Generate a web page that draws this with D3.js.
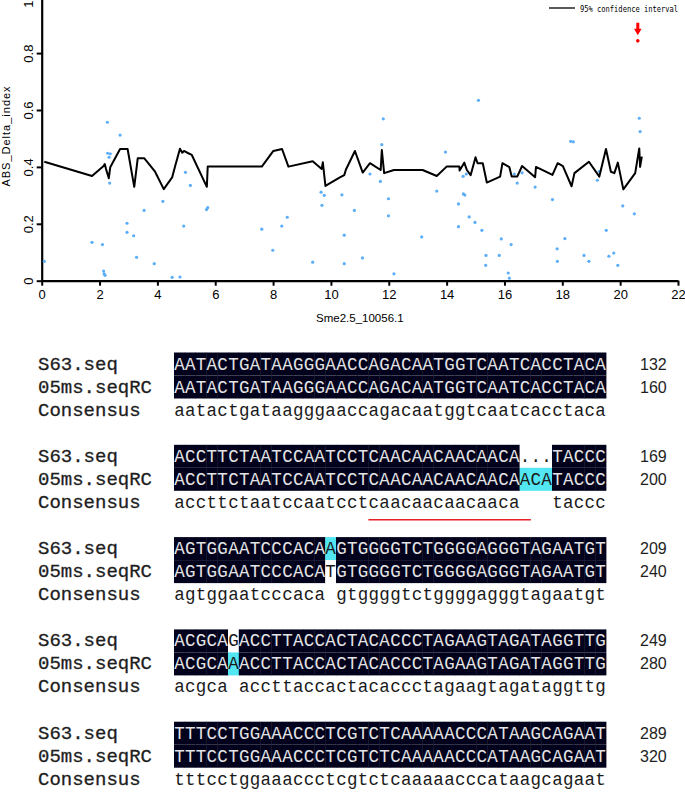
<!DOCTYPE html>
<html><head><meta charset="utf-8">
<script src="https://cdn.jsdelivr.net/npm/d3@7"></script>
<style>html,body{margin:0;padding:0;background:#fff;}svg{display:block;}</style>
</head><body>
<svg id="fig" width="685" height="811"></svg>
<script>
// ---------- Top chart data ----------
const pointX = [0.09,1.74,2.10,2.14,2.16,2.19,2.27,2.28,2.37,2.33,2.35,2.71,2.95,2.95,3.18,3.28,3.54,3.89,4.19,4.51,4.78,4.91,4.97,5.14,5.70,5.74,7.61,7.99,8.30,8.49,9.37,9.66,9.77,9.69,10.38,10.46,10.46,10.81,11.09,11.35,11.71,11.76,11.81,11.99,11.99,12.18,13.14,13.66,13.96,14.41,14.41,14.57,14.58,14.63,14.68,14.78,14.98,15.10,15.22,15.36,15.35,15.82,15.89,16.13,16.17,16.23,16.34,16.44,16.61,17.06,17.66,17.82,17.83,18.09,18.29,18.38,18.75,18.92,19.21,19.28,19.52,19.61,19.78,19.92,20.09,20.49,20.66,20.69];
const pointY = [0.068,0.135,0.127,0.034,0.024,0.019,0.557,0.448,0.446,0.434,0.343,0.512,0.202,0.170,0.158,0.082,0.247,0.060,0.279,0.012,0.013,0.192,0.381,0.335,0.250,0.257,0.181,0.107,0.192,0.223,0.065,0.311,0.300,0.265,0.302,0.160,0.060,0.247,0.080,0.375,0.349,0.478,0.569,0.288,0.228,0.024,0.154,0.315,0.452,0.270,0.190,0.367,0.305,0.301,0.375,0.224,0.205,0.634,0.177,0.089,0.054,0.089,0.147,0.027,0.009,0.127,0.375,0.343,0.379,0.329,0.285,0.112,0.068,0.148,0.490,0.488,0.089,0.068,0.353,0.384,0.177,0.086,0.097,0.054,0.263,0.235,0.571,0.524];
const ciX = [0.09,1.74,2.14,2.18,2.22,2.32,2.37,2.71,2.97,3.20,3.32,3.55,3.92,4.22,4.51,4.61,4.78,4.86,4.92,5.07,5.19,5.71,5.74,7.61,8.01,8.31,8.53,9.37,9.68,9.72,9.81,10.31,10.46,10.52,10.83,11.10,11.35,11.72,11.76,11.84,12.18,13.17,13.66,14.00,14.44,14.45,14.61,14.70,14.83,15.00,15.07,15.25,15.39,15.85,15.93,16.17,16.25,16.44,16.61,17.06,17.09,17.66,17.84,18.02,18.32,18.42,18.92,19.28,19.51,19.68,19.80,19.92,20.11,20.52,20.66,20.69,20.75];
const ciY = [0.418,0.368,0.403,0.410,0.394,0.360,0.399,0.463,0.463,0.330,0.430,0.430,0.383,0.322,0.363,0.401,0.464,0.450,0.456,0.448,0.442,0.330,0.401,0.401,0.456,0.463,0.401,0.420,0.393,0.416,0.333,0.363,0.371,0.391,0.456,0.380,0.413,0.389,0.459,0.378,0.389,0.389,0.368,0.401,0.401,0.387,0.415,0.389,0.371,0.434,0.413,0.413,0.345,0.366,0.413,0.399,0.366,0.366,0.403,0.364,0.400,0.372,0.413,0.403,0.332,0.378,0.418,0.366,0.463,0.383,0.378,0.415,0.321,0.378,0.465,0.400,0.436];
const outlierX = [20.61];
const outlierY = [0.843];
const xTicks = [0,2,4,6,8,10,12,14,16,18,20,22];
const yTicks = [0,0.2,0.4,0.6,0.8,1];
const yTickLabels = ["0","0.2","0.4","0.6","0.8","1"];
const legendLabel = "95% confidence interval";
const xTitle = "Sme2.5_10056.1";
const yTitle = "ABS_Delta_index";

// ---------- Alignment data ----------
const rowNames = ["S63.seq","05ms.seqRC","Consensus"];
const seqS63 = [
  "AATACTGATAAGGGAACCAGACAATGGTCAATCACCTACA",
  "ACCTTCTAATCCAATCCTCAACAACAACAACA...TACCC",
  "AGTGGAATCCCACAAGTGGGGTCTGGGGAGGGTAGAATGT",
  "ACGCAGACCTTACCACTACACCCTAGAAGTAGATAGGTTG",
  "TTTCCTGGAAACCCTCGTCTCAAAAACCCATAAGCAGAAT"];
const seq05ms = [
  "AATACTGATAAGGGAACCAGACAATGGTCAATCACCTACA",
  "ACCTTCTAATCCAATCCTCAACAACAACAACAACATACCC",
  "AGTGGAATCCCACATGTGGGGTCTGGGGAGGGTAGAATGT",
  "ACGCAAACCTTACCACTACACCCTAGAAGTAGATAGGTTG",
  "TTTCCTGGAAACCCTCGTCTCAAAAACCCATAAGCAGAAT"];
const seqConsensus = [
  "aatactgataagggaaccagacaatggtcaatcacctaca",
  "accttctaatccaatcctcaacaacaacaaca   taccc",
  "agtggaatcccaca gtggggtctggggagggtagaatgt",
  "acgca accttaccactacaccctagaagtagataggttg",
  "tttcctggaaaccctcgtctcaaaaacccataagcagaat"];
// shading: B = identical (dark), C = mismatch highlight (cyan), W = none
const shadeS63 = [
  "BBBBBBBBBBBBBBBBBBBBBBBBBBBBBBBBBBBBBBBB",
  "BBBBBBBBBBBBBBBBBBBBBBBBBBBBBBBBWWWBBBBB",
  "BBBBBBBBBBBBBBCBBBBBBBBBBBBBBBBBBBBBBBBB",
  "BBBBBWBBBBBBBBBBBBBBBBBBBBBBBBBBBBBBBBBB",
  "BBBBBBBBBBBBBBBBBBBBBBBBBBBBBBBBBBBBBBBB"];
const shade05ms = [
  "BBBBBBBBBBBBBBBBBBBBBBBBBBBBBBBBBBBBBBBB",
  "BBBBBBBBBBBBBBBBBBBBBBBBBBBBBBBBCCCBBBBB",
  "BBBBBBBBBBBBBBWBBBBBBBBBBBBBBBBBBBBBBBBB",
  "BBBBBCBBBBBBBBBBBBBBBBBBBBBBBBBBBBBBBBBB",
  "BBBBBBBBBBBBBBBBBBBBBBBBBBBBBBBBBBBBBBBB"];
const endS63 = [132,169,209,249,289];
const end05ms = [160,200,240,280,320];
const underlineBlock = [1];
const underlineFrom = [18];
const underlineTo = [32];

// ---------- Drawing ----------
const svg = d3.select("#fig");
const x = d3.scaleLinear().domain([0,22]).range([41.7,678]);
const y = d3.scaleLinear().domain([0,1]).range([280.7,-3.8]);
const sans = "'Liberation Sans', Arial, sans-serif";

// x axis
const xAxis = svg.append("g").attr("transform","translate(0,280.7)")
  .call(d3.axisBottom(x).tickValues(xTicks).tickSize(5).tickSizeOuter(0).tickFormat(d3.format("d")));
xAxis.select(".domain").attr("stroke","#000").attr("stroke-width",2.2);
xAxis.selectAll(".tick line").attr("stroke","#000").attr("stroke-width",2);
xAxis.selectAll(".tick text").attr("font-family",sans).attr("font-size",13).attr("fill","#000").attr("dy","0.95em").attr("y",6);

// y axis
const yAxis = svg.append("g").attr("transform","translate(41.7,0)")
  .call(d3.axisLeft(y).tickValues(yTicks).tickSize(5).tickSizeOuter(0).tickFormat((d,i)=>yTickLabels[i]));
yAxis.select(".domain").attr("stroke","#000").attr("stroke-width",2.2);
yAxis.selectAll(".tick line").attr("stroke","#000").attr("stroke-width",2);
yAxis.selectAll(".tick text").attr("font-family",sans).attr("font-size",13).attr("fill","#000")
  .attr("x",null).attr("dy",null).attr("text-anchor","middle")
  .attr("transform",(d)=> d===1 ? "translate(-8.5,7.5) rotate(-90)" : "translate(-8.5,0) rotate(-90)");

// axis titles
svg.append("text").attr("x",(x(0)+x(22))/2).attr("y",322).attr("text-anchor","middle")
  .attr("font-family",sans).attr("font-size",11.5).text(xTitle);
svg.append("text").attr("transform","translate(10,136) rotate(-90)").attr("text-anchor","middle")
  .attr("font-family",sans).attr("font-size",11).attr("letter-spacing",1).text(yTitle);

// points
svg.append("g").selectAll("circle").data(pointX).join("circle")
  .attr("cx",(d)=>x(d)).attr("cy",(d,i)=>y(pointY[i])).attr("r",1.6).attr("fill","#5caef7");

// CI line
const ciData = ciX.map((d,i)=>[d,ciY[i]]);
svg.append("path").datum(ciData)
  .attr("d",d3.line().x(d=>x(d[0])).y(d=>y(d[1])))
  .attr("fill","none").attr("stroke","#000").attr("stroke-width",2).attr("stroke-linejoin","round");

// outlier + arrow
svg.append("g").selectAll("circle").data(outlierX).join("circle")
  .attr("cx",d=>x(d)).attr("cy",(d,i)=>y(outlierY[i])).attr("r",1.8).attr("fill","#ff0000");
outlierX.forEach((d,i)=>{
  const cx = x(d), cy = y(outlierY[i]);
  svg.append("path")
    .attr("d",`M${cx-1.5},${cy-18}L${cx+1.5},${cy-18}L${cx+1.5},${cy-12}L${cx+3.8},${cy-12}L${cx},${cy-5.5}L${cx-3.8},${cy-12}L${cx-1.5},${cy-12}Z`)
    .attr("fill","#ff0000");
});

// legend
svg.append("line").attr("x1",549).attr("x2",575).attr("y1",8).attr("y2",8).attr("stroke","#000").attr("stroke-width",1.3);
svg.append("text").attr("transform","translate(580,11.5) scale(1,1.25)")
  .attr("font-family","'DejaVu Sans Mono', monospace").attr("font-size",7.1).text(legendLabel);

// ---------- Alignment ----------
const col = d3.scaleBand().domain(d3.range(40)).range([174,606]).padding(0);
const blockTop = d3.scaleLinear().domain([0,1]).range([352.5,444.8]);
const rowH = 23;
const fill = {B:"#02021c", C:"#52e6f2", W:"#ffffff"};
const txtCol = {B:"#e4e4e4", C:"#1a1a1a", W:"#1a1a1a"};
const mono = "'Liberation Mono', 'Courier New', monospace";

const al = svg.append("g");
seqS63.forEach((s,b)=>{
  const top = blockTop(b);
  const rows = [[seqS63[b],shadeS63[b],endS63[b]],[seq05ms[b],shade05ms[b],end05ms[b]],[seqConsensus[b],null,null]];
  rows.forEach((r,ri)=>{
    const ry = top + ri*rowH;
    const cy = ry + rowH/2;
    al.append("text").attr("x",38).attr("y",cy+5.5).attr("font-family",mono).attr("font-size",19)
      .attr("fill","#1e1e1e").attr("stroke","#1e1e1e").attr("stroke-width",0.3).text(rowNames[ri]);
    const chars = r[0].split("");
    const shade = r[1] ? r[1].split("") : null;
    if (shade) {
      al.append("g").selectAll("rect").data(shade).join("rect")
        .attr("x",(d,i)=>col(i)).attr("y",ry).attr("width",col.bandwidth()+0.4).attr("height",rowH)
        .attr("fill",d=>fill[d]);
    }
    al.append("g").selectAll("text").data(chars).join("text")
      .attr("x",(d,i)=>col(i)+col.bandwidth()/2).attr("y",cy+5.5).attr("text-anchor","middle")
      .attr("font-family",mono).attr("font-size",17.5)
      .attr("fill",(d,i)=> shade ? txtCol[shade[i]] : "#1a1a1a")
      .text(d=>d===" "?"":d);
    if (r[2] !== null) {
      al.append("text").attr("x",640).attr("y",cy+5.5).attr("font-family",sans).attr("font-size",16)
        .attr("fill","#1e1e1e").text(r[2]);
    }
  });
});
// red underline
underlineBlock.forEach((b,i)=>{
  const yy = blockTop(b) + 2*rowH + rowH/2 + 17.5;
  al.append("line").attr("x1",col(underlineFrom[i])).attr("x2",col(underlineTo[i])+col.bandwidth()+0.5)
    .attr("y1",yy).attr("y2",yy).attr("stroke","#e8202a").attr("stroke-width",1.5);
});
</script>
</body></html>
